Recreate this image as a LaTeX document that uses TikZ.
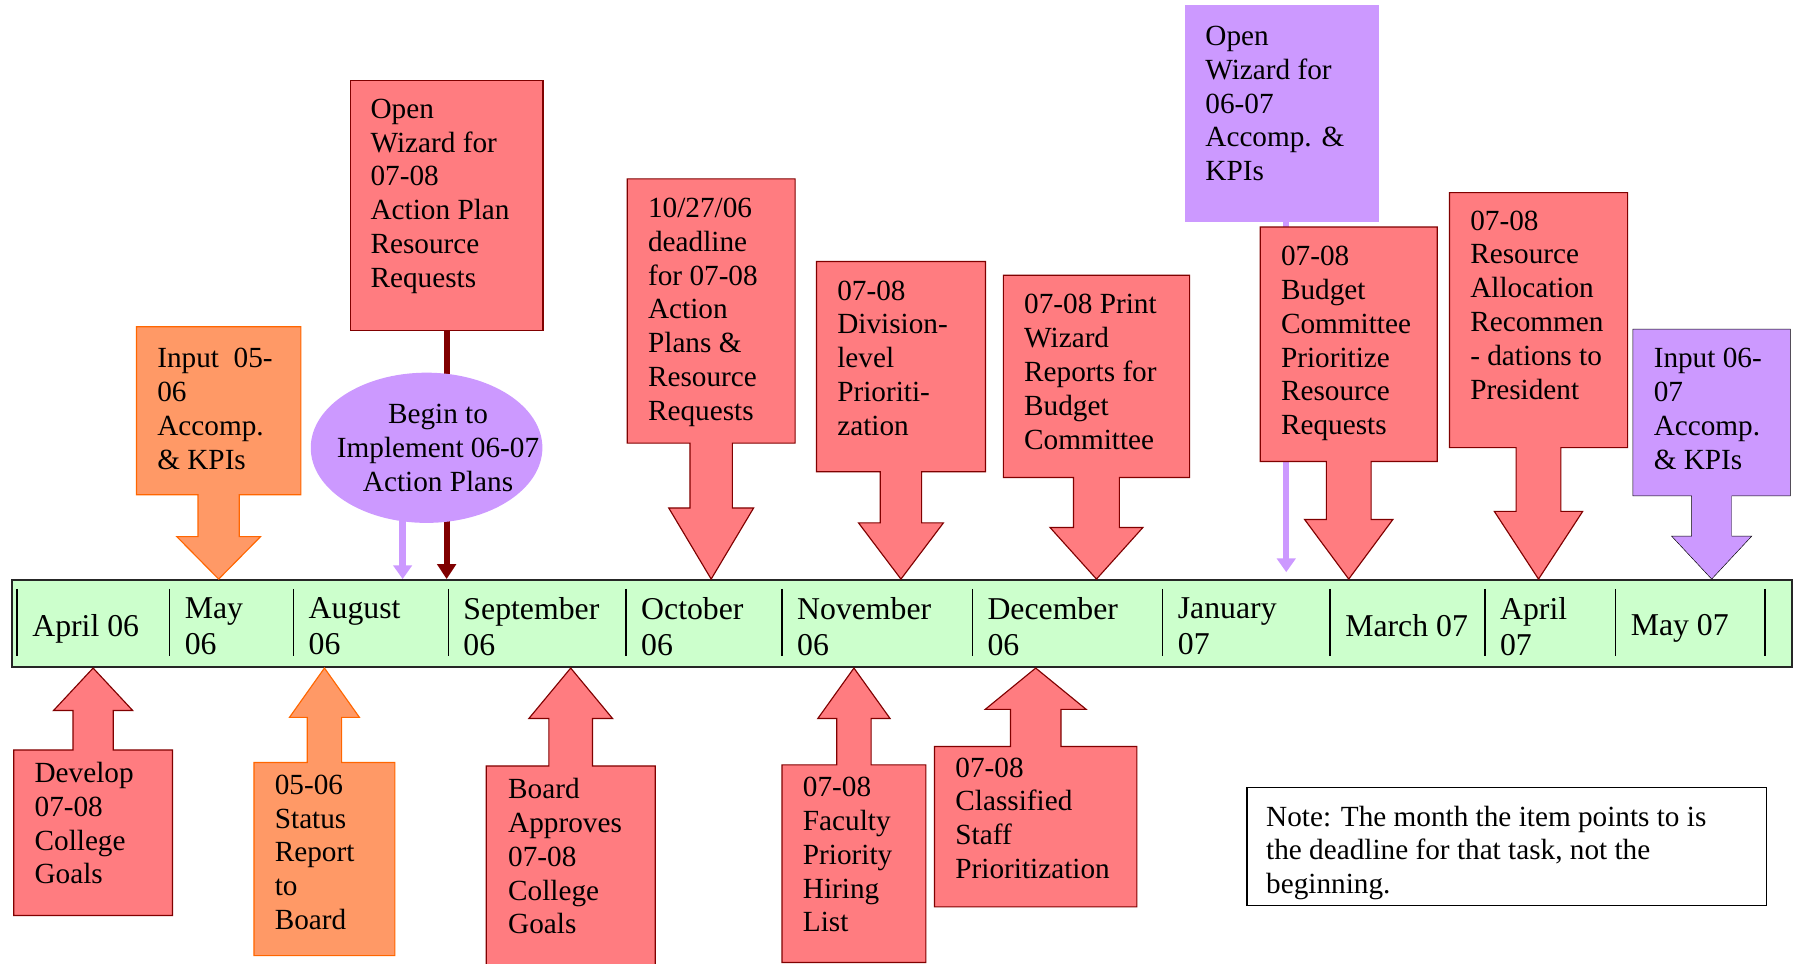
\documentclass[tikz,border=0pt]{standalone}
\usepackage{fontspec}
\setmainfont{Liberation Serif}
\usetikzlibrary{arrows.meta, positioning, calc, shapes.geometric}

\definecolor{callred}{HTML}{FF7C80}
\definecolor{callredline}{HTML}{800000}
\definecolor{callorange}{HTML}{FF9966}
\definecolor{callorangeline}{HTML}{FF6600}
\definecolor{lavender}{HTML}{CC99FF}
\definecolor{monthgreen}{HTML}{CCFFCC}

\newcommand{\callfont}{\fontsize{25.5}{29.5}\selectfont}
\newcommand{\monthfont}{\fontsize{27.7}{31}\selectfont}

% box with a fat arrow down to the bar
\newcommand{\calldown}[5]{%
  \draw[#5] (#1.north west) -- (#1.north east) -- (#1.south east)
    -- ($(#1.south)+(#2,0)$) -- ($(#1.south |- bar.north)+(#2,-#4)$)
    -- ($(#1.south |- bar.north)+(#3,-#4)$) -- (#1.south |- bar.north)
    -- ($(#1.south |- bar.north)+(-#3,-#4)$) -- ($(#1.south |- bar.north)+(-#2,-#4)$)
    -- ($(#1.south)+(-#2,0)$) -- (#1.south west) -- cycle;}
% box with a fat arrow up to the bar
\newcommand{\callup}[5]{%
  \draw[#5] (#1.south west) -- (#1.south east) -- (#1.north east)
    -- ($(#1.north)+(#2,0)$) -- ($(#1.north |- bar.south)+(#2,#4)$)
    -- ($(#1.north |- bar.south)+(#3,#4)$) -- (#1.north |- bar.south)
    -- ($(#1.north |- bar.south)+(-#3,#4)$) -- ($(#1.north |- bar.south)+(-#2,#4)$)
    -- ($(#1.north)+(-#2,0)$) -- (#1.north west) -- cycle;}

\begin{document}
\begin{tikzpicture}[
    x=1pt, y=-1pt,
    bar/.style={
        draw=black!85,
        line width=1.6pt,
        fill=monthgreen,
        anchor=north west,
        inner sep=0pt,
    },
    monthsep/.style={line width=1.3pt},
    month/.style={
        anchor=north west,
        inner sep=0pt,
        align=left,
        font=\monthfont,
    },
    callbox/.style={anchor=north west, inner sep=0pt},
    redcall/.style={draw=callredline, fill=callred, line width=1pt},
    orangecall/.style={draw=callorangeline, fill=callorange, line width=1pt},
    lavcall/.style={fill=lavender},
    calltext/.style={
        anchor=north west,
        inner sep=0pt,
        align=left,
        font=\callfont,
    },
    wizline/.style={
        draw=callredline,
        line width=5pt,
        -{Triangle[width=16pt, length=13pt]},
    },
    lavline/.style={
        draw=lavender,
        line width=5.5pt,
        -{Triangle[width=16pt, length=12pt]},
    },
    beginell/.style={
        ellipse,
        fill=lavender,
        minimum width=202pt,
        minimum height=131pt,
        inner sep=0pt,
    },
    notebox/.style={
        draw=black,
        line width=1.3pt,
        fill=white,
        anchor=north west,
        minimum width=453pt,
        minimum height=103pt,
    }
]
    \useasboundingbox (0,0) rectangle (1568,840);

    % Timeline
    \node[bar, minimum width=1552pt, minimum height=76pt] (bar) at (9.6,505) {};
    \foreach \sx/\ty/\mon [count=\i] in {15/536/{April 06}, 148/521/{May\\06},
        256/521/{August\\06}, 391/521/{September\\06}, 546/521/{October\\06},
        682/521/{November\\06}, 848/521/{December\\06}, 1014/521/{January\\07},
        1160/536/{March 07}, 1295/521/{April\\07}, 1409/536/{May 07}}
    {
        \draw[monthsep] (\sx,513.5) -- (\sx,572);
        \node[month] (month\i) at (\sx+13,\ty) {\mon};
    }
    \draw[monthsep] (1539,513.5) -- (1539,572);

    % Above the timeline
    \node[callbox, minimum width=143pt, minimum height=146pt] (inputa) at (119,285) {};
    \calldown{inputa}{18}{36.5}{37}{orangecall}
    \node[calltext, below right=18.5pt and 18pt of inputa.north west] (inputa-t)
        {Input~~05-\\06\\Accomp.\\\& KPIs};

    \node[callbox, redcall, minimum width=168pt, minimum height=218pt] (wizap) at (305,70) {};
    \draw[wizline] (wizap.south) -- (wizap.south |- bar.north);
    \node[calltext, below right=16pt and 18pt of wizap.north west] (wizap-t)
        {Open\\Wizard for\\07-08\\Action Plan\\Resource\\Requests};

    \node[beginell] (begin) at (372,390.5) {};
    \draw[lavline] (begin.252) -- (begin.252 |- bar.north);
    \node[calltext, align=center, anchor=center] (begin-t) at ([xshift=10pt]begin.center)
        {Begin to\\Implement 06-07\\Action Plans};

    \node[callbox, minimum width=146pt, minimum height=230pt] (deadline) at (547,156) {};
    \calldown{deadline}{18.5}{37}{62}{redcall}
    \node[calltext, below right=16.5pt and 18pt of deadline.north west] (deadline-t)
        {10/27/06\\deadline\\for 07-08\\Action\\Plans \&\\Resource\\Requests};

    \node[callbox, minimum width=147pt, minimum height=183pt] (divprio) at (712,228) {};
    \calldown{divprio}{18}{37}{49}{redcall}
    \node[calltext, below right=16.5pt and 18pt of divprio.north west] (divprio-t)
        {07-08\\Division-\\level\\Prioriti-\\zation};

    \node[callbox, minimum width=162pt, minimum height=176pt] (printwiz) at (875,240) {};
    \calldown{printwiz}{20}{40.5}{45}{redcall}
    \node[calltext, below right=16.5pt and 18pt of printwiz.north west] (printwiz-t)
        {07-08 Print\\Wizard\\Reports for\\Budget\\Committee};

    \node[callbox, lavcall, minimum width=169pt, minimum height=189pt] (wizkpi) at (1033,4) {};
    \coordinate (wizkpifoot) at ($(wizkpi.south)+(4,0)$);
    \draw[lavline, shorten >=6pt] (wizkpifoot) -- (wizkpifoot |- bar.north);
    \node[calltext, below right=18.5pt and 18pt of wizkpi.north west] (wizkpi-t)
        {Open\\Wizard for\\06-07\\Accomp. \&\\KPIs};

    \node[callbox, minimum width=154pt, minimum height=204pt] (budget) at (1099,198) {};
    \calldown{budget}{19.5}{38.5}{52}{redcall}
    \node[calltext, below right=16.5pt and 18pt of budget.north west] (budget-t)
        {07-08\\Budget\\Committee\\Prioritize\\Resource\\Requests};

    \node[callbox, minimum width=155pt, minimum height=222pt] (alloc) at (1264,168) {};
    \calldown{alloc}{19.5}{38.5}{59}{redcall}
    \node[calltext, below right=15.5pt and 18pt of alloc.north west] (alloc-t)
        {07-08\\Resource\\Allocation\\Recommen\\- dations to\\President};

    \node[callbox, minimum width=137pt, minimum height=145pt] (inputb) at (1424,287) {};
    \calldown{inputb}{17.5}{35}{37.5}{lavcall}
    \node[calltext, below right=16.5pt and 18pt of inputb.north west] (inputb-t)
        {Input 06-\\07\\Accomp.\\\& KPIs};

    % Below the timeline
    \node[callbox, minimum width=138pt, minimum height=144pt] (develop) at (12,654) {};
    \callup{develop}{17.5}{34.5}{37}{redcall}
    \node[calltext, below right=10.5pt and 18pt of develop.north west] (develop-t)
        {Develop\\07-08\\College\\Goals};

    \node[callbox, minimum width=122.5pt, minimum height=168pt] (status) at (221.5,665) {};
    \callup{status}{15}{30.5}{43}{orangecall}
    \node[calltext, below right=10.5pt and 18pt of status.north west] (status-t)
        {05-06\\Status\\Report\\to\\Board};

    \node[callbox, minimum width=147pt, minimum height=190pt] (approve) at (424,668) {};
    \callup{approve}{19}{36.5}{44}{redcall}
    \node[calltext, below right=10.5pt and 19pt of approve.north west] (approve-t)
        {Board\\Approves\\07-08\\College\\Goals};

    \node[callbox, minimum width=125pt, minimum height=172pt] (faculty) at (682,667) {};
    \callup{faculty}{15}{31.5}{44}{redcall}
    \node[calltext, below right=10.5pt and 18pt of faculty.north west] (faculty-t)
        {07-08\\Faculty\\Priority\\Hiring\\List};

    \node[callbox, minimum width=176pt, minimum height=139.5pt] (classified) at (815,651) {};
    \callup{classified}{22}{44}{36}{redcall}
    \node[calltext, below right=9.5pt and 18pt of classified.north west] (classified-t)
        {07-08\\Classified\\Staff\\Prioritization};

    % Note
    \node[notebox] (note) at (1087,686) {};
    \node[calltext, below right=16.5pt and 17pt of note.north west] (note-t)
        {Note: The month the item points to is\\the deadline for that task, not the\\beginning.};
\end{tikzpicture}
\end{document}
